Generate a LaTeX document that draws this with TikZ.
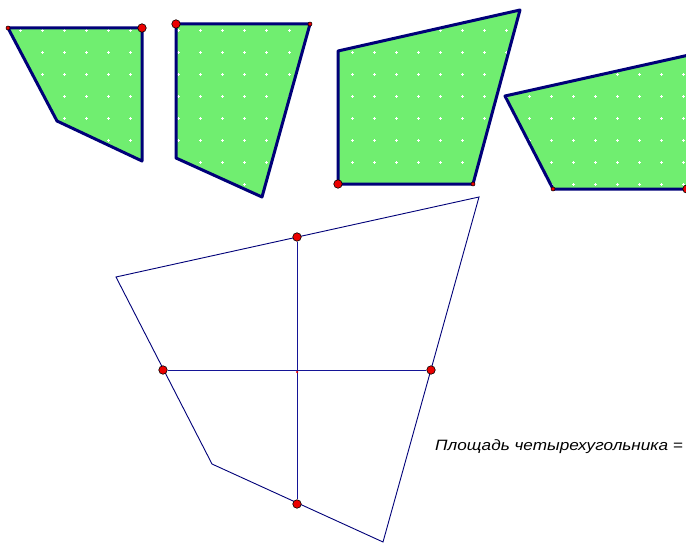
\documentclass[tikz,border=0pt]{standalone}
\usepackage{fontspec}
\setmainfont{Liberation Sans}
\definecolor{navyline}{RGB}{0,0,120}
\definecolor{blueline}{RGB}{20,20,150}
\definecolor{lgreen}{RGB}{112,238,112}
\definecolor{dotred}{RGB}{235,0,0}
\newcommand{\whitegrid}[4]{%
  \foreach \gx in {#1,#2,...,#3} {
    \foreach \gy in {8.3,30.3,...,#4} {
      \fill[white] (\gx-1.5,\gy-0.5) rectangle (\gx+1.5,\gy+0.5);
      \fill[white] (\gx-0.5,\gy-1.5) rectangle (\gx+0.5,\gy+1.5);
    }
  }%
}
\begin{document}
\begin{tikzpicture}[x=1pt,y=-1pt,
  piecefill/.style={fill=lgreen},
  pieceedge/.style={draw=navyline, line width=3pt, line join=round},
  quadedge/.style={draw=navyline, line width=0.9pt, line join=miter},
  midline/.style={draw=blueline, line width=0.9pt},
  bigdot/.style={circle, fill=dotred, draw=black, line width=0.6pt, minimum size=8.5pt, inner sep=0pt},
  smalldot/.style={circle, fill=dotred, draw=black, line width=0.5pt, minimum size=4pt, inner sep=0pt},
  centredot/.style={circle, fill=dotred, minimum size=2.5pt, inner sep=0pt},
  label/.style={font=\fontsize{15}{17}\selectfont\itshape, anchor=base west, inner sep=0pt, xscale=1.145}
]
\clip (0,0) rectangle (686,543);
\useasboundingbox (0,0) rectangle (686,543);

% ---- piece 1
\coordinate (p1a) at (8,28);
\coordinate (p1b) at (142,28);
\coordinate (p1c) at (142,161);
\coordinate (p1d) at (57,121);
\fill[piecefill] (p1a) -- (p1b) -- (p1c) -- (p1d) -- cycle;
\begin{scope}
  \clip (p1a) -- (p1b) -- (p1c) -- (p1d) -- cycle;
  \whitegrid{20.7}{42.7}{150}{180}
\end{scope}
\draw[pieceedge] (p1a) -- (p1b) -- (p1c) -- (p1d) -- cycle;

% ---- piece 2
\coordinate (p2a) at (176,24);
\coordinate (p2b) at (310,24);
\coordinate (p2c) at (262,197);
\coordinate (p2d) at (176,158);
\fill[piecefill] (p2a) -- (p2b) -- (p2c) -- (p2d) -- cycle;
\begin{scope}
  \clip (p2a) -- (p2b) -- (p2c) -- (p2d) -- cycle;
  \whitegrid{178}{200.2}{320}{205}
\end{scope}
\draw[pieceedge] (p2a) -- (p2b) -- (p2c) -- (p2d) -- cycle;

% ---- piece 3
\coordinate (p3a) at (338,51);
\coordinate (p3b) at (520,10);
\coordinate (p3c) at (473,184);
\coordinate (p3d) at (338,184);
\fill[piecefill] (p3a) -- (p3b) -- (p3c) -- (p3d) -- cycle;
\begin{scope}
  \clip (p3a) -- (p3b) -- (p3c) -- (p3d) -- cycle;
  \whitegrid{330}{352}{530}{195}
\end{scope}
\draw[pieceedge] (p3a) -- (p3b) -- (p3c) -- (p3d) -- cycle;

% ---- piece 4 (runs past the right edge)
\coordinate (p4a) at (505,96);
\coordinate (p4b) at (689,55);
\coordinate (p4c) at (689,189);
\coordinate (p4d) at (553,189);
\fill[piecefill] (p4a) -- (p4b) -- (p4c) -- (p4d) -- cycle;
\begin{scope}
  \clip (p4a) -- (p4b) -- (p4c) -- (p4d) -- cycle;
  \whitegrid{507.3}{529.3}{700}{195}
\end{scope}
\draw[pieceedge] (p4a) -- (p4b) -- (p4c) -- (p4d) -- cycle;

% dots on pieces
\node[smalldot] (d1a) at (p1a) {};
\node[bigdot]   (d1b) at (p1b) {};
\node[bigdot]   (d2a) at (p2a) {};
\node[smalldot] (d2b) at (p2b) {};
\node[bigdot]   (d3d) at (p3d) {};
\node[smalldot] (d3c) at (p3c) {};
\node[smalldot] (d4d) at (p4d) {};
\node[bigdot]   (d4c) at (687,189) {};

% ---- big quadrilateral
\coordinate (A) at (116,277);
\coordinate (B) at (479,197);
\coordinate (C) at (383,542);
\coordinate (D) at (212,464);
\draw[quadedge] (A) -- (B) -- (C) -- (D) -- cycle;
\node[bigdot] (M1) at (297,237) {};
\node[bigdot] (M2) at (431,370) {};
\node[bigdot] (M3) at (297,504) {};
\node[bigdot] (M4) at (163,370) {};
\draw[midline] (M1) -- (M3);
\draw[midline] (M4) -- (M2);
\node[centredot] (O) at (297,372) {};

\node[label] (area) at (435,450) {Площадь четырехугольника =};
\end{tikzpicture}
\end{document}
